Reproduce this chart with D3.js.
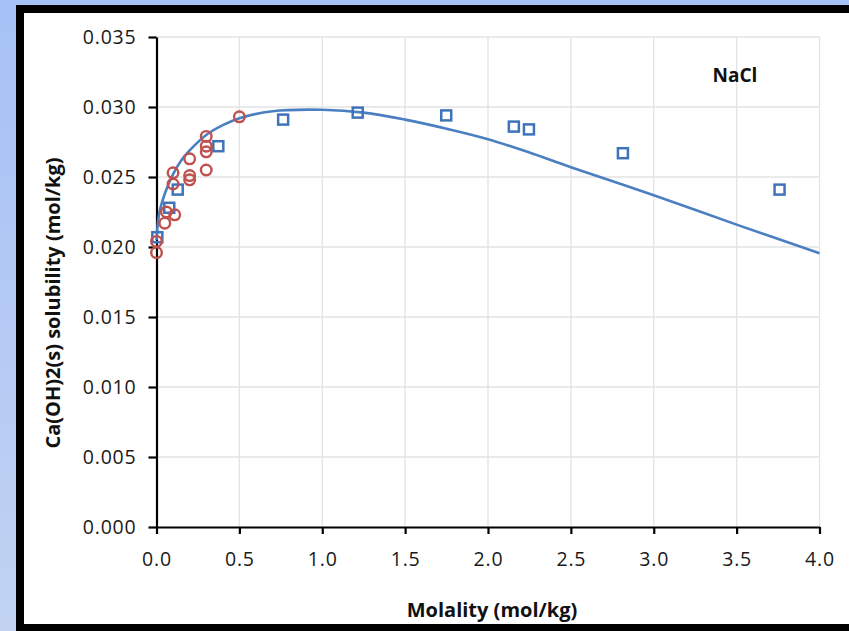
<!DOCTYPE html>
<html>
<head>
<meta charset="utf-8">
<script src="https://cdn.jsdelivr.net/npm/d3@7"></script>
<style>
  html, body { margin: 0; padding: 0; background: #fff; }
  svg { display: block; }
</style>
</head>
<body>
<svg id="chart" width="849" height="631"></svg>
<script>
// ---- data ----
const xTicks = [0, 0.5, 1.0, 1.5, 2.0, 2.5, 3.0, 3.5, 4.0];
const yTicks = [0, 0.005, 0.010, 0.015, 0.020, 0.025, 0.030, 0.035];

// measured (squares, blue)
const squareX = [0.005, 0.077, 0.128, 0.373, 0.764, 1.214, 1.748, 2.156, 2.247, 2.814, 3.759];
const squareY = [0.0207, 0.0228, 0.0241, 0.0272, 0.0291, 0.0296, 0.0294, 0.0286, 0.0284, 0.0267, 0.0241];

// measured (circles, red)
const circleX = [0.0, 0.0, 0.05, 0.06, 0.1, 0.1, 0.11, 0.2, 0.2, 0.2, 0.3, 0.3, 0.3, 0.3, 0.5];
const circleY = [0.0196, 0.0204, 0.0217, 0.0225, 0.0245, 0.0253, 0.0223, 0.0248, 0.0251, 0.0263, 0.0255, 0.0268, 0.0272, 0.0279, 0.0293];

// model curve
const curveX = [0, 0.01, 0.02, 0.05, 0.1, 0.15, 0.2, 0.3, 0.4, 0.5, 0.7, 1.0, 1.25, 1.5, 1.75, 2.0, 2.25, 2.5, 3.0, 3.5, 4.0];
const curveY = [0.0205, 0.0219, 0.0226, 0.0238, 0.0252, 0.0262, 0.0269, 0.0280, 0.0287, 0.0292, 0.0297, 0.0298, 0.0296, 0.0291, 0.02845, 0.0277, 0.02675, 0.0257, 0.0237, 0.0216, 0.01955];

const label = "NaCl";
const xTitle = "Molality (mol/kg)";
const yTitle = "Ca(OH)2(s) solubility (mol/kg)";

// ---- drawing ----
const svg = d3.select("#chart");
const W = 849, H = 631;

const defs = svg.append("defs");
const grad = defs.append("linearGradient").attr("id", "bg").attr("x1", 0).attr("y1", 0).attr("x2", 0).attr("y2", 1);
grad.append("stop").attr("offset", "0%").attr("stop-color", "#a6c1f6");
grad.append("stop").attr("offset", "100%").attr("stop-color", "#c2d3f2");

svg.append("rect").attr("x", 0).attr("y", 0).attr("width", W).attr("height", H).attr("fill", "url(#bg)");
svg.append("rect").attr("x", 16).attr("y", 5).attr("width", W).attr("height", H).attr("fill", "#000");
svg.append("rect").attr("x", 24).attr("y", 13).attr("width", W).attr("height", 624 - 13).attr("fill", "#fff");

const x = d3.scaleLinear().domain([0, 4]).range([156.5, 819.5]);
const y = d3.scaleLinear().domain([0, 0.035]).range([527, 37]);

// gridlines
const grid = svg.append("g").attr("stroke", "#e3e3e3").attr("stroke-width", 1.3);
grid.selectAll("line.v").data(xTicks.slice(1)).join("line")
  .attr("x1", d => x(d)).attr("x2", d => x(d)).attr("y1", y(0.035)).attr("y2", y(0));
grid.selectAll("line.h").data(yTicks.slice(1)).join("line")
  .attr("x1", x(0)).attr("x2", x(4)).attr("y1", d => y(d)).attr("y2", d => y(d));

const font = "'Open Sans', sans-serif";

// axes
const yAxis = svg.append("g").attr("transform", `translate(${x(0)},0)`)
  .call(d3.axisLeft(y).tickValues(yTicks).tickFormat(d3.format(".3f")).tickSize(8).tickPadding(12).tickSizeOuter(0));
const xAxis = svg.append("g").attr("transform", `translate(0,${y(0)})`)
  .call(d3.axisBottom(x).tickValues(xTicks).tickFormat(d3.format(".1f")).tickSize(7).tickPadding(18).tickSizeOuter(0));

[yAxis, xAxis].forEach(a => {
  a.select(".domain").attr("stroke", "#000").attr("stroke-width", 2.2);
  a.selectAll(".tick line").attr("stroke", "#000").attr("stroke-width", 2.2);
  a.selectAll(".tick text").attr("fill", "#1a1a1a").style("font-family", font)
    .style("font-size", "19.5px").style("letter-spacing", "0.8px");
});

// model line
const line = d3.line().x(d => x(d[0])).y(d => y(d[1])).curve(d3.curveCatmullRom.alpha(0.5));
svg.append("path").datum(curveX.map((v, i) => [v, curveY[i]]))
  .attr("d", line).attr("fill", "none").attr("stroke", "#4a7fc1").attr("stroke-width", 2.6);

// squares
const s = 10;
svg.append("g").selectAll("rect").data(squareX.map((v, i) => [v, squareY[i]])).join("rect")
  .attr("x", d => x(d[0]) - s / 2).attr("y", d => y(d[1]) - s / 2)
  .attr("width", s).attr("height", s)
  .attr("fill", "none").attr("stroke", "#3f74bb").attr("stroke-width", 2.5);

// circles
svg.append("g").selectAll("circle").data(circleX.map((v, i) => [v, circleY[i]])).join("circle")
  .attr("cx", d => x(d[0])).attr("cy", d => y(d[1])).attr("r", 5.3)
  .attr("fill", "none").attr("stroke", "#c0504d").attr("stroke-width", 2.4);

// labels
svg.append("text").attr("x", 735).attr("y", 82).attr("text-anchor", "middle")
  .style("font-family", font).style("font-weight", "bold").style("font-size", "19px")
  .attr("fill", "#111").text(label);

svg.append("text").attr("x", 492).attr("y", 617).attr("text-anchor", "middle")
  .style("font-family", font).style("font-weight", "bold").style("font-size", "20px")
  .attr("fill", "#111").text(xTitle);

svg.append("text").attr("transform", "translate(60,303) rotate(-90)").attr("text-anchor", "middle")
  .style("font-family", font).style("font-weight", "bold").style("font-size", "20px")
  .attr("fill", "#111").text(yTitle);
</script>
</body>
</html>
